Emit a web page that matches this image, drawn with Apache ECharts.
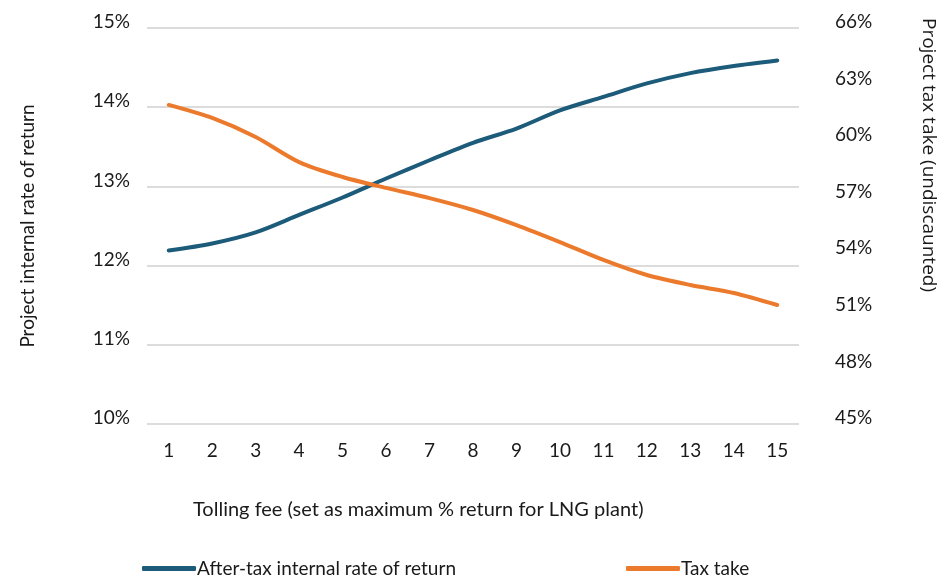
<!DOCTYPE html>
<html>
<head>
<meta charset="utf-8">
<script src="https://cdn.jsdelivr.net/npm/echarts@6/dist/echarts.min.js"></script>
<style>
  html, body { margin: 0; padding: 0; background: #ffffff; }
  #chart { width: 944px; height: 576px; }
</style>
</head>
<body>
<div id="chart"></div>
<script>
// Tolling fee levels (maximum % return for the LNG plant)
const tollingFee = ['1', '2', '3', '4', '5', '6', '7', '8', '9', '10', '11', '12', '13', '14', '15'];

// After-tax project IRR, % (left axis)
const afterTaxIrr = [12.19, 12.28, 12.42, 12.64, 12.86, 13.10, 13.33, 13.55, 13.73, 13.96, 14.13, 14.30, 14.43, 14.52, 14.59];

// Undiscounted project tax take, % (right axis)
const taxTake = [61.92, 61.23, 60.22, 58.89, 58.10, 57.52, 56.98, 56.35, 55.55, 54.65, 53.70, 52.90, 52.37, 51.95, 51.31];

// Axis ranges
const irrRange = { min: 10, max: 15, step: 1 };
const taxRange = { min: 45, max: 66, step: 3 };

const FONT = 'Lato';
const TEXT = '#1a1a1a';
const BLUE = '#1d5b7a';
const ORANGE = '#ec7a2c';

const chart = echarts.init(document.getElementById('chart'), null, { renderer: 'canvas' });

chart.setOption({
  backgroundColor: '#ffffff',
  animation: false,
  textStyle: { fontFamily: FONT, color: TEXT },
  title: {
    text: 'Tolling fee (set as maximum % return for LNG plant)',
    left: 188,
    top: 495,
    textStyle: { fontFamily: FONT, fontSize: 20, fontWeight: 'normal', color: TEXT }
  },
  // right-hand axis title, set against the top of the plot
  graphic: [
    {
      type: 'text',
      x: 928,
      y: 18,
      rotation: -Math.PI / 2,
      style: {
        text: 'Project tax take (undiscaunted)',
        font: '19px "Open Sans"',
        fill: TEXT,
        textAlign: 'left',
        textVerticalAlign: 'middle',
        align: 'left',
        verticalAlign: 'middle'
      }
    }
  ],
  legend: {
    left: 137,
    top: 554,
    itemWidth: 54,
    itemHeight: 5,
    itemGap: 170,
    icon: 'roundRect',
    textStyle: { fontFamily: FONT, fontSize: 19, color: TEXT, padding: [0, 0, 0, -4] },
    data: ['After-tax internal rate of return', 'Tax take']
  },
  grid: { left: 147, right: 145, top: 28, bottom: 152, containLabel: false },
  xAxis: {
    type: 'category',
    data: tollingFee,
    boundaryGap: true,
    axisLine: { show: false },
    axisTick: { show: false },
    axisLabel: { fontFamily: FONT, fontSize: 19, color: TEXT, margin: 17 }
  },
  yAxis: [
    {
      type: 'value',
      min: irrRange.min,
      max: irrRange.max,
      interval: irrRange.step,
      name: 'Project internal rate of return',
      nameLocation: 'middle',
      nameGap: 110,
      nameRotate: 90,
      nameTextStyle: { fontFamily: FONT, fontSize: 19, color: TEXT },
      axisLine: { show: false },
      axisTick: { show: false },
      axisLabel: {
        fontFamily: FONT, fontSize: 19, color: TEXT, margin: 17,
        verticalAlign: 'bottom', lineHeight: 12,
        formatter: v => v + '%'
      },
      splitLine: { show: true, lineStyle: { color: '#dcdcdc', width: 2 } }
    },
    {
      type: 'value',
      min: taxRange.min,
      max: taxRange.max,
      interval: taxRange.step,
      position: 'right',
      axisLine: { show: false },
      axisTick: { show: false },
      axisLabel: {
        fontFamily: FONT, fontSize: 19, color: TEXT, margin: 36,
        verticalAlign: 'bottom', lineHeight: 12,
        formatter: v => v + '%'
      },
      splitLine: { show: false }
    }
  ],
  series: [
    {
      name: 'After-tax internal rate of return',
      type: 'line',
      yAxisIndex: 0,
      data: afterTaxIrr,
      smooth: 0.3,
      showSymbol: false,
      symbol: 'none',
      color: BLUE,
      lineStyle: { color: BLUE, width: 4, cap: 'round' }
    },
    {
      name: 'Tax take',
      type: 'line',
      yAxisIndex: 1,
      data: taxTake,
      smooth: 0.3,
      showSymbol: false,
      symbol: 'none',
      color: ORANGE,
      lineStyle: { color: ORANGE, width: 4, cap: 'round' }
    }
  ]
});
</script>
</body>
</html>
